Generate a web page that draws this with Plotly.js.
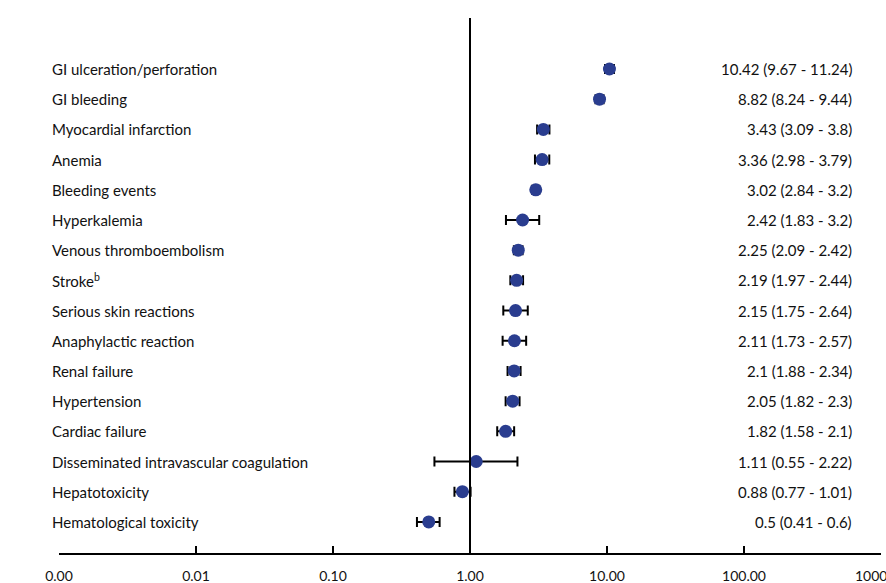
<!DOCTYPE html>
<html>
<head>
<meta charset="utf-8">
<script src="https://cdn.plot.ly/plotly-3.0.1.min.js"></script>
<style>html,body{margin:0;padding:0;background:#fff;}#chart{width:886px;height:583px;}</style>
</head>
<body>
<div id="chart"></div>
<script>
const categories = [
  "GI ulceration/perforation",
  "GI bleeding",
  "Myocardial infarction",
  "Anemia",
  "Bleeding events",
  "Hyperkalemia",
  "Venous thromboembolism",
  "Stroke<sup>b</sup>",
  "Serious skin reactions",
  "Anaphylactic reaction",
  "Renal failure",
  "Hypertension",
  "Cardiac failure",
  "Disseminated intravascular coagulation",
  "Hepatotoxicity",
  "Hematological toxicity"
];
const estimate = [10.42, 8.82, 3.43, 3.36, 3.02, 2.42, 2.25, 2.19, 2.15, 2.11, 2.1, 2.05, 1.82, 1.11, 0.88, 0.5];
const lower    = [9.67, 8.24, 3.09, 2.98, 2.84, 1.83, 2.09, 1.97, 1.75, 1.73, 1.88, 1.82, 1.58, 0.55, 0.77, 0.41];
const upper    = [11.24, 9.44, 3.8, 3.79, 3.2, 3.2, 2.42, 2.44, 2.64, 2.57, 2.34, 2.3, 2.1, 2.22, 1.01, 0.6];
const ciLabels = [
  "10.42 (9.67 - 11.24)", "8.82 (8.24 - 9.44)", "3.43 (3.09 - 3.8)", "3.36 (2.98 - 3.79)",
  "3.02 (2.84 - 3.2)", "2.42 (1.83 - 3.2)", "2.25 (2.09 - 2.42)", "2.19 (1.97 - 2.44)",
  "2.15 (1.75 - 2.64)", "2.11 (1.73 - 2.57)", "2.1 (1.88 - 2.34)", "2.05 (1.82 - 2.3)",
  "1.82 (1.58 - 2.1)", "1.11 (0.55 - 2.22)", "0.88 (0.77 - 1.01)", "0.5 (0.41 - 0.6)"
];
const tickVals = [0.001, 0.01, 0.1, 1, 10, 100, 1000];
const tickText = ["0.00", "0.01", "0.10", "1.00", "10.00", "100.00", "1000.00"];

const idx = categories.map((_, i) => i);
const font = "Lato, 'Open Sans', sans-serif";

const trace = {
  type: "scatter",
  mode: "markers",
  x: estimate,
  y: idx,
  marker: {color: "#2a3d8f", size: 13},
  error_x: {
    type: "data",
    symmetric: false,
    array: estimate.map((v, i) => upper[i] - v),
    arrayminus: estimate.map((v, i) => v - lower[i]),
    color: "#000",
    thickness: 2,
    width: 5
  },
  hoverinfo: "x+y",
  showlegend: false
};

const annotations = [];
categories.forEach((c, i) => {
  annotations.push({
    xref: "paper", yref: "y", x: -0.011, y: i, text: c, showarrow: false,
    xanchor: "left", yanchor: "middle", font: {family: font, size: 15, color: "#111"}
  });
  annotations.push({
    xref: "paper", yref: "y", x: 0.967, y: i, text: ciLabels[i], showarrow: false,
    xanchor: "right", yanchor: "middle", font: {family: font, size: 15, color: "#111"}
  });
});

const layout = {
  width: 886, height: 583,
  margin: {l: 59, r: 5, t: 18, b: 30},
  paper_bgcolor: "#fff", plot_bgcolor: "#fff",
  font: {family: font, size: 14, color: "#111"},
  xaxis: {
    type: "log", range: [-3, 3],
    tickvals: tickVals, ticktext: tickText,
    ticks: "inside", ticklen: 7, tickwidth: 2, tickcolor: "#000",
    ticklabeloverflow: "allow", ticklabelstandoff: 9,
    showline: true, linecolor: "#000", linewidth: 2,
    showgrid: false, zeroline: false, automargin: false,
    tickfont: {family: font, size: 14, color: "#111"}
  },
  yaxis: {
    range: [16.03, -1.69], visible: false, showgrid: false, zeroline: false
  },
  shapes: [{
    type: "line", xref: "x", yref: "paper", x0: 1, x1: 1, y0: 0, y1: 1,
    line: {color: "#000", width: 2}
  }],
  annotations: annotations
};

Plotly.newPlot("chart", [trace], layout, {displayModeBar: false, staticPlot: true});
</script>
</body>
</html>
